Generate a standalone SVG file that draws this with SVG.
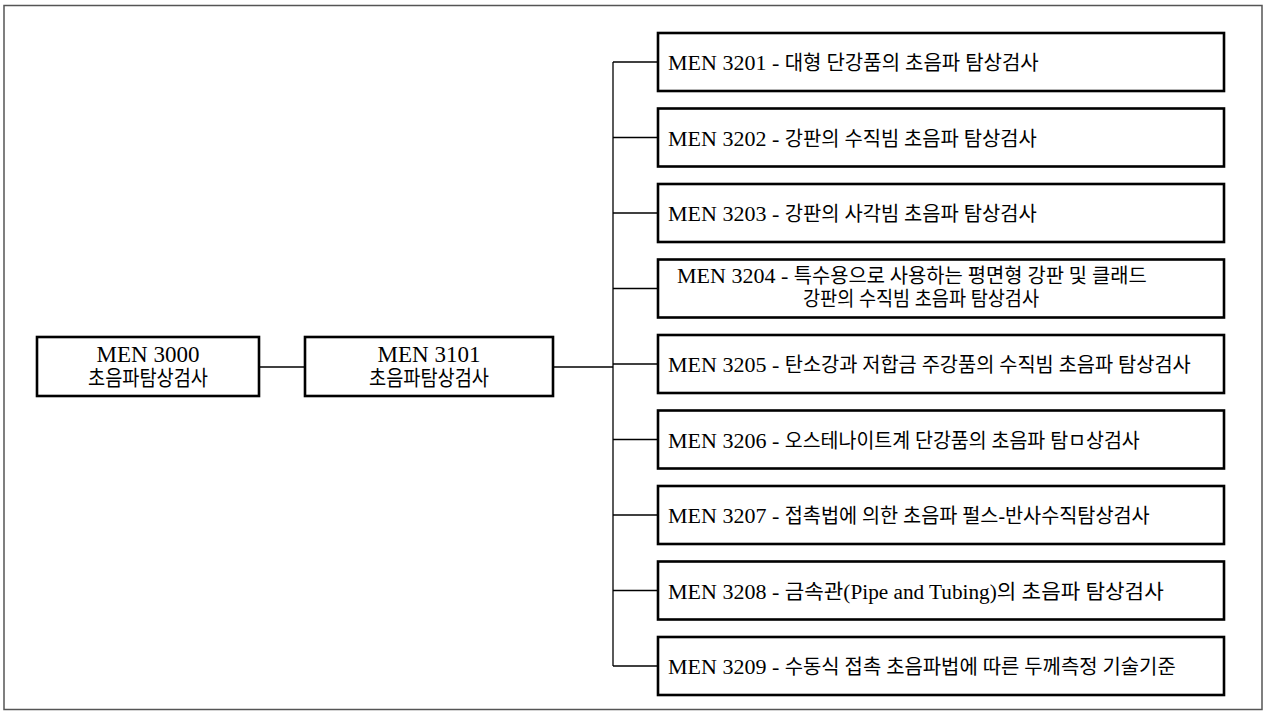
<svg xmlns="http://www.w3.org/2000/svg" width="1265" height="714" viewBox="0 0 1265 714">
<style>
.frame{fill:none;stroke:#555;stroke-width:1.5}
.box{fill:#fff;stroke:#000;stroke-width:2.6}
.conn{fill:none;stroke:#000;stroke-width:1.3}
text{font-family:"Liberation Serif","Noto Sans CJK KR",serif;font-size:22px;fill:#000}
.c{text-anchor:middle}
.k{font-size:20px}
.big{font-size:23px}
.bigk{font-size:21px}
</style>
<rect width="1265" height="714" fill="#fff"/>
<rect class="frame" x="4" y="5.5" width="1258" height="704"/>
<g id="connectors">
<line class="conn" x1="259" y1="367" x2="305" y2="367"/>
<line class="conn" x1="553" y1="367" x2="613" y2="367"/>
<line class="conn" x1="613" y1="62" x2="613" y2="666"/>
<line class="conn" x1="613" y1="62" x2="658" y2="62"/>
<line class="conn" x1="613" y1="137.5" x2="658" y2="137.5"/>
<line class="conn" x1="613" y1="213" x2="658" y2="213"/>
<line class="conn" x1="613" y1="288.5" x2="658" y2="288.5"/>
<line class="conn" x1="613" y1="364" x2="658" y2="364"/>
<line class="conn" x1="613" y1="439.5" x2="658" y2="439.5"/>
<line class="conn" x1="613" y1="515" x2="658" y2="515"/>
<line class="conn" x1="613" y1="590.5" x2="658" y2="590.5"/>
<line class="conn" x1="613" y1="666" x2="658" y2="666"/>
</g>
<g id="n3000">
<rect class="box" x="37" y="337" width="222" height="59"/>
<text class="c big" x="148" y="362">MEN 3000</text>
<text class="c bigk" x="148" y="385" textLength="120" lengthAdjust="spacingAndGlyphs">초음파탐상검사</text>
</g>
<g id="n3101">
<rect class="box" x="305" y="337" width="248" height="59"/>
<text class="c big" x="429" y="362">MEN 3101</text>
<text class="c bigk" x="429" y="385" textLength="120" lengthAdjust="spacingAndGlyphs">초음파탐상검사</text>
</g>
<g id="n3201">
<rect class="box" x="658" y="33" width="566" height="58"/>
<text x="668" y="70">MEN 3201 - <tspan class="k" textLength="254" lengthAdjust="spacingAndGlyphs">대형 단강품의 초음파 탐상검사</tspan></text>
</g>
<g id="n3202">
<rect class="box" x="658" y="108.5" width="566" height="58"/>
<text x="668" y="145.5">MEN 3202 - <tspan class="k" textLength="252" lengthAdjust="spacingAndGlyphs">강판의 수직빔 초음파 탐상검사</tspan></text>
</g>
<g id="n3203">
<rect class="box" x="658" y="184" width="566" height="58"/>
<text x="668" y="221">MEN 3203 - <tspan class="k" textLength="252" lengthAdjust="spacingAndGlyphs">강판의 사각빔 초음파 탐상검사</tspan></text>
</g>
<g id="n3204">
<rect class="box" x="658" y="259.5" width="566" height="58"/>
<text x="677" y="283">MEN 3204 - <tspan class="k" textLength="353" lengthAdjust="spacingAndGlyphs">특수용으로 사용하는 평면형 강판 및 클래드</tspan></text>
<text class="k" x="803" y="306" textLength="236" lengthAdjust="spacingAndGlyphs">강판의 수직빔 초음파 탐상검사</text>
</g>
<g id="n3205">
<rect class="box" x="658" y="335" width="566" height="58"/>
<text x="668" y="372">MEN 3205 - <tspan class="k" textLength="406" lengthAdjust="spacingAndGlyphs">탄소강과 저합금 주강품의 수직빔 초음파 탐상검사</tspan></text>
</g>
<g id="n3206">
<rect class="box" x="658" y="410.5" width="566" height="58"/>
<text x="668" y="447.5">MEN 3206 - <tspan class="k" textLength="355" lengthAdjust="spacingAndGlyphs">오스테나이트계 단강품의 초음파 탐ㅁ상검사</tspan></text>
</g>
<g id="n3207">
<rect class="box" x="658" y="486" width="566" height="58"/>
<text x="668" y="523">MEN 3207 - <tspan class="k" textLength="365" lengthAdjust="spacingAndGlyphs">접촉법에 의한 초음파 펄스-반사수직탐상검사</tspan></text>
</g>
<g id="n3208">
<rect class="box" x="658" y="561.5" width="566" height="58"/>
<text x="668" y="598.5">MEN 3208 - <tspan class="k" textLength="379" lengthAdjust="spacingAndGlyphs">금속관(Pipe and Tubing)의 초음파 탐상검사</tspan></text>
</g>
<g id="n3209">
<rect class="box" x="658" y="637" width="566" height="58"/>
<text x="668" y="674">MEN 3209 - <tspan class="k" textLength="391" lengthAdjust="spacingAndGlyphs">수동식 접촉 초음파법에 따른 두께측정 기술기준</tspan></text>
</g>
</svg>
